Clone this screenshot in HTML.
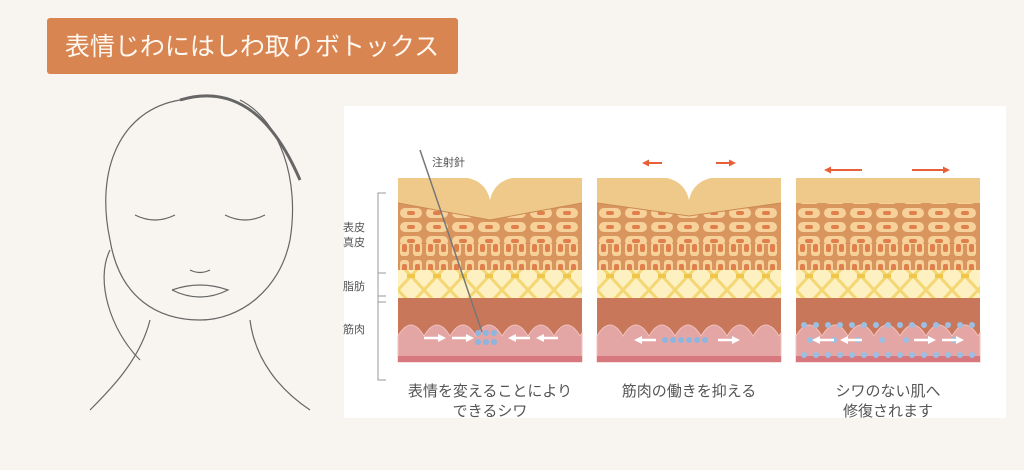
<!DOCTYPE html>
<html><head><meta charset="utf-8"><style>
body{margin:0;width:1024px;height:465px;background:#f8f5f0;overflow:hidden;font-family:"Liberation Sans","Noto Sans CJK JP",sans-serif;}
</style></head><body>
<svg width="1024" height="465" xmlns="http://www.w3.org/2000/svg" font-family="Liberation Sans, Noto Sans CJK JP, sans-serif">
<defs>
<pattern id="cells" x="0" y="0" width="26" height="14" patternUnits="userSpaceOnUse">
<rect width="26" height="14" fill="#d9955e"/>
<rect x="2" y="2" width="22" height="10" rx="5" fill="#f6d29a"/>
<rect x="9" y="5" width="8" height="4" rx="2" fill="#e07f4c"/>
</pattern>
<pattern id="cols" x="0" y="0" width="13" height="20" patternUnits="userSpaceOnUse">
<rect width="13" height="20" fill="#d9955e"/>
<rect x="2" y="2" width="9" height="16" rx="3" fill="#f6d29a"/>
<rect x="4" y="6" width="5" height="8" rx="2" fill="#e07f4c"/>
</pattern>
<pattern id="fat" x="0" y="0" width="26" height="28" patternUnits="userSpaceOnUse">
<rect width="26" height="28" fill="#fdf1c2"/>
<path d="M0 0L13 14L26 0M0 28L13 14L26 28" stroke="#f4d673" stroke-width="3" fill="none"/>
<rect x="9" y="12" width="8" height="4" fill="#efc54a"/>
</pattern>
<marker id="ah" markerUnits="userSpaceOnUse" markerWidth="8" markerHeight="8" refX="4" refY="4" orient="auto"><path d="M0 0L8 4L0 8Z" fill="#fff"/></marker>
<marker id="ao" markerUnits="userSpaceOnUse" markerWidth="7" markerHeight="7" refX="3" refY="3.5" orient="auto"><path d="M0 0L7 3.5L0 7Z" fill="#e8603a"/></marker>
<g id="blk">
<rect x="0" y="25" width="184" height="75" fill="url(#cells)"/>
<rect x="0" y="66" width="184" height="26" fill="url(#cols)"/>
<rect x="0" y="92" width="184" height="28" fill="url(#fat)"/>
<rect x="0" y="120" width="184" height="64" fill="#c9775a"/>
<path d="M0 184 V158 q13 -22 26 0 q13 -22 26 0 q13 -22 26 0 q13 -22 26 0 q13 -22 26 0 q13 -22 26 0 q13 -22 26 0 q2 -3 2 -3 V184Z" fill="#e3a6a4" stroke="#efc0bd"/>
<rect x="0" y="178" width="184" height="6" fill="#d6787e"/>
</g>
</defs>
<rect x="47" y="18" width="411" height="56" rx="3" fill="#d88552"/>
<text x="252" y="55" text-anchor="middle" font-size="25" fill="#fff8f0">表情じわにはしわ取りボトックス</text>
<g fill="none" stroke="#666" stroke-width="1.2">
<path d="M180 100 C120 110 95 170 110 240 C120 300 160 320 200 320 C240 320 280 290 290 240 C300 180 280 120 240 100"/>
<path d="M180 100 C230 85 270 110 300 180" stroke-width="3"/>
<path d="M135 215 q20 10 40 0 M225 215 q20 10 40 0"/>
<path d="M190 270 q10 5 20 0"/>
<path d="M172 290 q28 -10 56 0 q-28 14 -56 0"/>
<path d="M150 320 C140 360 110 390 90 410 M250 320 C255 360 280 390 310 410"/>
<path d="M110 250 C95 280 110 330 140 360"/>
</g>
<rect x="344" y="106" width="662" height="312" fill="#fff"/>
<g transform="translate(398,178)"><use href="#blk"/>
<path d="M0 0 L70 0 Q88 4 92 22 Q96 4 114 0 L184 0 L184 25 L92 42 L0 25Z" fill="#efc98a"/>
<path d="M0 25 L92 42 L184 25" stroke="#c98a52" fill="none"/></g>
<g transform="translate(597,178)"><use href="#blk"/>
<path d="M0 0 L70 0 Q88 4 92 22 Q96 4 114 0 L184 0 L184 25 L92 38 L0 25Z" fill="#efc98a"/>
<path d="M0 25 L92 38 L184 25" stroke="#c98a52" fill="none"/></g>
<g transform="translate(796,178)"><use href="#blk"/>
<path d="M0 0 L184 0 L184 25 L0 25Z" fill="#efc98a"/></g>
<line x1="420" y1="150" x2="482" y2="332" stroke="#777" stroke-width="1.5"/>
<text x="432" y="166" font-size="11" fill="#555">注射針</text>
<g fill="#8cb6e0"><circle cx="478" cy="333" r="3"/><circle cx="486" cy="333" r="3"/><circle cx="494" cy="333" r="3"/><circle cx="478" cy="342" r="3"/><circle cx="486" cy="342" r="3"/><circle cx="494" cy="342" r="3"/>
<circle cx="665" cy="340" r="3"/><circle cx="673" cy="340" r="3"/><circle cx="681" cy="340" r="3"/><circle cx="689" cy="340" r="3"/><circle cx="697" cy="340" r="3"/><circle cx="705" cy="340" r="3"/></g>
<g fill="#9bbfe3">
<circle cx="804" cy="325" r="3"/><circle cx="816" cy="325" r="3"/><circle cx="828" cy="325" r="3"/><circle cx="840" cy="325" r="3"/><circle cx="852" cy="325" r="3"/><circle cx="864" cy="325" r="3"/><circle cx="876" cy="325" r="3"/><circle cx="888" cy="325" r="3"/><circle cx="900" cy="325" r="3"/><circle cx="912" cy="325" r="3"/><circle cx="924" cy="325" r="3"/><circle cx="936" cy="325" r="3"/><circle cx="948" cy="325" r="3"/><circle cx="960" cy="325" r="3"/><circle cx="972" cy="325" r="3"/>
<circle cx="810" cy="340" r="3"/><circle cx="834" cy="340" r="3"/><circle cx="858" cy="340" r="3"/><circle cx="882" cy="340" r="3"/><circle cx="906" cy="340" r="3"/><circle cx="930" cy="340" r="3"/><circle cx="954" cy="340" r="3"/>
<circle cx="804" cy="355" r="3"/><circle cx="816" cy="355" r="3"/><circle cx="828" cy="355" r="3"/><circle cx="840" cy="355" r="3"/><circle cx="852" cy="355" r="3"/><circle cx="864" cy="355" r="3"/><circle cx="876" cy="355" r="3"/><circle cx="888" cy="355" r="3"/><circle cx="900" cy="355" r="3"/><circle cx="912" cy="355" r="3"/><circle cx="924" cy="355" r="3"/><circle cx="936" cy="355" r="3"/><circle cx="948" cy="355" r="3"/><circle cx="960" cy="355" r="3"/><circle cx="972" cy="355" r="3"/>
</g>
<g stroke="#fff" stroke-width="2.5" marker-end="url(#ah)">
<line x1="424" y1="338" x2="442" y2="338"/><line x1="452" y1="338" x2="470" y2="338"/>
<line x1="530" y1="338" x2="512" y2="338"/><line x1="558" y1="338" x2="540" y2="338"/>
<line x1="656" y1="340" x2="638" y2="340"/><line x1="718" y1="340" x2="736" y2="340"/>
<line x1="834" y1="340" x2="816" y2="340"/><line x1="862" y1="340" x2="844" y2="340"/>
<line x1="914" y1="340" x2="932" y2="340"/><line x1="942" y1="340" x2="960" y2="340"/>
</g>
<g stroke="#e8603a" stroke-width="2" marker-end="url(#ao)">
<line x1="662" y1="163" x2="646" y2="163"/><line x1="716" y1="163" x2="732" y2="163"/>
<line x1="862" y1="170" x2="828" y2="170"/><line x1="912" y1="170" x2="946" y2="170"/>
</g>
<g stroke="#999" fill="none"><path d="M386 193h-8v187h8M386 273h-8M386 296h-8M386 302h-8"/></g>
<g font-size="11" fill="#555"><text x="343" y="231">表皮</text><text x="343" y="246">真皮</text><text x="343" y="290">脂肪</text><text x="343" y="333">筋肉</text></g>
<g font-size="15" fill="#555" text-anchor="middle">
<text x="490" y="396">表情を変えることにより</text><text x="490" y="416">できるシワ</text>
<text x="689" y="396">筋肉の働きを抑える</text>
<text x="888" y="396">シワのない肌へ</text><text x="888" y="416">修復されます</text>
</g>
</svg>
</body></html>
